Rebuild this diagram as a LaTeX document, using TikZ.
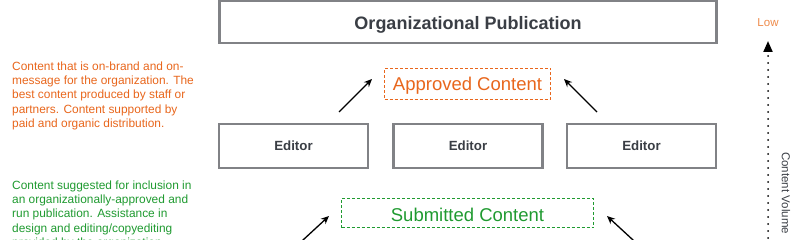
\documentclass[tikz,border=0pt]{standalone}
\usepackage{fontspec}
\setmainfont{Liberation Sans}
\usetikzlibrary{arrows.meta}
\definecolor{boxgray}{HTML}{818286}
\definecolor{txtgray}{HTML}{3A3E45}
\definecolor{orgorange}{HTML}{E8661C}
\definecolor{loworange}{HTML}{EE8A4A}
\definecolor{subgreen}{HTML}{1F9A30}
\tikzset{
  pubbox/.style={draw=boxgray, line width=2.6pt, fill=white, inner sep=0pt, text depth=0pt, font=\bfseries\fontsize{18}{20}\selectfont, text=txtgray},
  edbox/.style={draw=boxgray, line width=2.8pt, fill=white, minimum width=149pt, minimum height=44pt, inner sep=0pt, text depth=0pt, font=\bfseries\fontsize{13.3}{15}\selectfont, text=txtgray},
  approvedbox/.style={draw=orgorange, line width=1.4pt, dash pattern=on 3pt off 2pt, minimum width=166pt, minimum height=31pt, inner sep=0pt, text depth=0pt, font=\fontsize{18.5}{20}\selectfont, text=orgorange},
  submittedbox/.style={draw=subgreen, line width=1.4pt, dash pattern=on 3pt off 2pt, minimum width=252pt, minimum height=29pt, inner sep=0pt, text depth=0pt, font=\fontsize{18.5}{20}\selectfont, text=subgreen},
  flowarrow/.style={draw=black, line width=1.3pt, -{Stealth[length=8pt,width=7pt]}},
  desc/.style={anchor=north west, inner sep=0pt, align=left, font=\fontsize{11.9}{14.3}\selectfont},
}
\begin{document}
\begin{tikzpicture}[x=1pt,y=-1pt]
\useasboundingbox (0,0) rectangle (800,240);
\clip (0,0) rectangle (800,240);
% top publication box
\node[pubbox, minimum width=497pt, minimum height=42pt] (pub) at (468,22) {};
\node[inner sep=0pt, text depth=0pt, font=\bfseries\fontsize{18}{20}\selectfont, text=txtgray] (pubtext) at (468,23) {Organizational Publication};
% approved content
\node[approvedbox] (approved) at (467.5,84) {Approved Content};
% editors
\node[edbox] (ed1) at (293.5,146) {Editor};
\node[edbox] (ed2) at (468,146) {Editor};
\node[edbox] (ed3) at (641.5,146) {Editor};
% submitted content
\node[submittedbox] (submitted) at (467.5,213) {};
\node[inner sep=0pt, text depth=0pt, font=\fontsize{18.5}{20}\selectfont, text=subgreen] (subtext) at (467.5,214.5) {Submitted Content};
% arrows to approved
\coordinate (a1s) at (339,112);
\coordinate (a1e) at (372,79);
\coordinate (a2s) at (597,112);
\coordinate (a2e) at (564,79);
\draw[flowarrow] (a1s) -- (a1e);
\draw[flowarrow] (a2s) -- (a2e);
% arrows to submitted
\coordinate (b1s) at (290,252);
\coordinate (b1e) at (329,216);
\coordinate (b2s) at (646,252);
\coordinate (b2e) at (607,216);
\draw[flowarrow] (b1s) -- (b1e);
\draw[flowarrow] (b2s) -- (b2e);
% left descriptions
\node[desc, text=orgorange] (desc1) at (12,61.5) {Content that is on-brand and on-\\message for the organization. The\\best content produced by staff or\\partners. Content supported by\\paid and organic distribution.};
\node[desc, text=subgreen] (desc2) at (12,180.5) {Content suggested for inclusion in\\an organizationally-approved and\\run publication. Assistance in\\design and editing/copyediting\\provided by the organization.};
% right scale
\node[inner sep=0pt, text depth=0pt, text=loworange, font=\fontsize{11.5}{13}\selectfont] (low) at (768,23) {Low};
\coordinate (vbot) at (768,245);
\coordinate (vtop) at (768,41);
\draw[line width=2pt, line cap=round, dash pattern=on 0pt off 7pt, -{Triangle[length=11pt,width=9pt]}] (vbot) -- (vtop);
\node[inner sep=0pt, rotate=-90, anchor=west, text=txtgray, font=\fontsize{11.5}{13}\selectfont] (vol) at (786,152) {Content Volume};
\end{tikzpicture}
\end{document}
